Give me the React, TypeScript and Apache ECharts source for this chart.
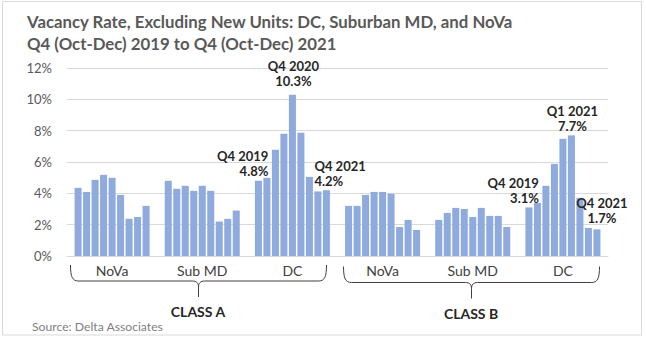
import React, { useEffect, useRef } from "react";
import * as echarts from "echarts";

// ---- data ----
const quarters = ["Q4 2019", "Q1 2020", "Q2 2020", "Q3 2020", "Q4 2020", "Q1 2021", "Q2 2021", "Q3 2021", "Q4 2021"];
const groupLabels = ["NoVa", "Sub MD", "DC", "NoVa", "Sub MD", "DC"];
const classA_NoVa = [4.35, 4.09, 4.86, 5.18, 4.99, 3.9, 2.37, 2.49, 3.2];
const classA_SubMD = [4.8, 4.29, 4.48, 4.16, 4.48, 4.16, 2.2, 2.37, 2.9];
const classA_DC = [4.8, 4.99, 6.78, 7.8, 10.3, 7.87, 5.05, 4.12, 4.2];
const classB_NoVa = [3.2, 3.2, 3.9, 4.09, 4.09, 3.97, 1.85, 2.3, 1.66];
const classB_SubMD = [2.3, 2.75, 3.07, 3.0, 2.49, 3.07, 2.56, 2.56, 1.85];
const classB_DC = [3.1, 3.39, 4.48, 5.88, 7.48, 7.7, 3.71, 1.79, 1.7];
const yTicks = [0, 2, 4, 6, 8, 10, 12];
const classLabels = ["CLASS A", "CLASS B"];
const titleLines = ["Vacancy Rate, Excluding New Units: DC, Suburban MD, and NoVa", "Q4 (Oct-Dec) 2019 to Q4 (Oct-Dec) 2021"];
const sourceText = "Source: Delta Associates";

// annotated bars: [group index, quarter index]
const annotated = [
  [2, 0],
  [2, 4],
  [2, 8],
  [5, 0],
  [5, 5],
  [5, 8],
];
// label styling per annotation (layout only)
const annotStyle = [
  { align: "right", offset: [10, 0], distance: 2 },
  { align: "center", offset: [1, 0], distance: 6 },
  { align: "left", offset: [-12, 0], distance: 2 },
  { align: "right", offset: [10, 0], distance: 2 },
  { align: "center", offset: [1, 0], distance: 2 },
  { align: "center", offset: [5, 0], distance: 4 },
];

const groups = [classA_NoVa, classA_SubMD, classA_DC, classB_NoVa, classB_SubMD, classB_DC];

const FONT = "Lato, 'Open Sans', sans-serif";
const BRACE_D =
  "M0,0 C0,12 2,16 8,16 L122,16 C126,16 128,18 128,22 L128,32 M128,22 C128,18 130,16 134,16 L248,16 C254,16 256,12 256,0";

let registered = false;
function registerBrace() {
  if (registered) return;
  echarts.graphic.registerShape("brace", echarts.graphic.extendPath(BRACE_D, {}) as any);
  registered = true;
}

export default function App() {
  const ref = useRef<HTMLDivElement>(null);
  useEffect(() => {
    if (!ref.current) return;
    registerBrace();
    const chart = echarts.init(ref.current, undefined, { renderer: "svg" });

    const series = quarters.map((q, qi) => ({
      type: "bar",
      name: q,
      barGap: "21%",
      barCategoryGap: "16.8%",
      itemStyle: { color: "#8FAADC" },
      data: groups.map((g, gi) => {
        const ai = annotated.findIndex((a) => a[0] === gi && a[1] === qi);
        if (ai < 0) return g[qi];
        const st = annotStyle[ai];
        return {
          value: g[qi],
          label: {
            show: true,
            position: "top",
            distance: st.distance,
            offset: st.offset,
            align: st.align,
            formatter: `${q}\n${g[qi].toFixed(1)}%`,
            fontFamily: FONT,
            fontWeight: "bold",
            fontSize: 13,
            lineHeight: 15,
            color: "#262626",
          },
        };
      }),
    }));

    chart.setOption({
      animation: false,
      grid: { left: 67, right: 38, top: 68, bottom: 83 },
      xAxis: {
        type: "category",
        data: groupLabels,
        axisTick: { show: false },
        axisLine: { show: true, lineStyle: { color: "#D9D9D9" } },
        axisLabel: { color: "#404040", fontSize: 14, fontFamily: FONT, margin: 7 },
      },
      yAxis: {
        type: "value",
        min: yTicks[0],
        max: yTicks[yTicks.length - 1],
        interval: yTicks[1] - yTicks[0],
        axisLine: { show: false },
        axisTick: { show: false },
        splitLine: { lineStyle: { color: "#D9D9D9" } },
        axisLabel: { formatter: "{value}%", color: "#595959", fontSize: 13, fontFamily: FONT, margin: 15 },
      },
      series,
      graphic: [
        {
          type: "rect",
          shape: { x: 2.5, y: 1.5, width: 639, height: 333.5 },
          style: { fill: "none", stroke: "#D9D9D9", lineWidth: 1 },
          silent: true,
        },
        {
          type: "text",
          x: 27,
          y: 10,
          style: {
            text: titleLines.join("\n"),
            fontFamily: FONT,
            fontWeight: "bold",
            fontSize: 16.8,
            lineHeight: 22,
            fill: "#595959",
          },
        },
        {
          type: "brace",
          x: 70.5,
          y: 265,
          style: { fill: "none", stroke: "#404040", lineWidth: 1 },
        },
        {
          type: "brace",
          x: 343.5,
          y: 266.5,
          style: { fill: "none", stroke: "#404040", lineWidth: 1 },
        },
        {
          type: "text",
          x: 198,
          y: 311,
          style: {
            text: classLabels[0],
            align: "center",
            verticalAlign: "middle",
            fontFamily: FONT,
            fontWeight: "bold",
            fontSize: 14,
            fill: "#262626",
          },
        },
        {
          type: "text",
          x: 471,
          y: 313,
          style: {
            text: classLabels[1],
            align: "center",
            verticalAlign: "middle",
            fontFamily: FONT,
            fontWeight: "bold",
            fontSize: 14,
            fill: "#262626",
          },
        },
        {
          type: "text",
          x: 32,
          y: 326,
          style: {
            text: sourceText,
            verticalAlign: "middle",
            fontFamily: FONT,
            fontSize: 12.2,
            fill: "#808080",
          },
        },
      ],
    });
    return () => chart.dispose();
  }, []);
  return <div ref={ref} style={{ position: "absolute", left: 0, top: 0, width: 646, height: 339 }} />;
}
